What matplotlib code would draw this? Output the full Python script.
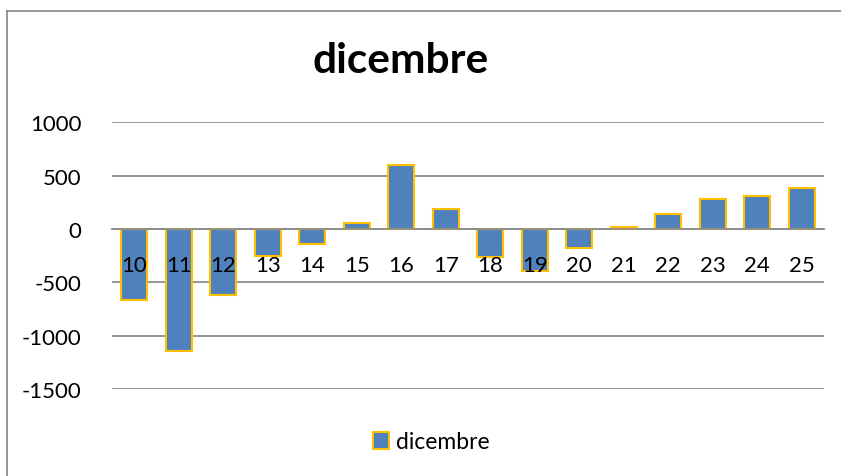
import matplotlib.pyplot as plt
from matplotlib.lines import Line2D

plt.rcParams['font.family'] = ['Lato', 'DejaVu Sans']

giorni = ['10', '11', '12', '13', '14', '15', '16', '17',
          '18', '19', '20', '21', '22', '23', '24', '25']
valori = [-663, -1141, -616, -250, -144, 56, 600, 188,
          -266, -397, -181, 22, 138, 278, 309, 388]
serie = 'dicembre'
y_ticks = [-1500, -1000, -500, 0, 500, 1000]

fig = plt.figure(figsize=(8.41, 4.77), dpi=100)
ax = fig.add_axes([0.1332, 0.1824, 0.8466, 0.5587])

x = list(range(len(giorni)))
ax.bar(x, valori, width=0.575, color='#4F81BD', edgecolor='#FFC000',
       linewidth=1.5, label=serie, zorder=3)

ax.set_xlim(-0.5, len(giorni) - 0.5)
ax.set_ylim(-1500, 1000)

for s in ['top', 'right', 'left']:
    ax.spines[s].set_visible(False)
ax.spines['bottom'].set_position(('data', 0))
ax.spines['bottom'].set_color('#8C8C8C')
ax.spines['bottom'].set_linewidth(1.3)
ax.spines['bottom'].set_zorder(4)

ax.set_yticks(y_ticks)
ax.set_yticklabels([str(v) for v in y_ticks])
ax.set_xticks(x)
ax.set_xticklabels(giorni)
ax.tick_params(axis='y', length=0, pad=22, labelsize=16)
ax.tick_params(axis='x', length=0, pad=19, labelsize=16)

ax.grid(axis='y', color='#8C8C8C', linewidth=1.3)
# griglia sotto le barre, etichette x sopra
ax.yaxis.set_zorder(0.5)
ax.xaxis.set_zorder(5)

fig.text(401 / 841, 1 - 61 / 477, 'dicembre', fontsize=30.5, fontweight='bold',
         ha='center', va='center')

fig.legend(loc='center', bbox_to_anchor=(431 / 841, 1 - 443 / 477), frameon=False,
           fontsize=16.5, handlelength=0.7, handleheight=0.7, handletextpad=0.3)

# bordo dell'area del grafico
fig.add_artist(Line2D([7 / 841, 7 / 841], [0, 1 - 12 / 477], transform=fig.transFigure,
                      color='#8C8C8C', linewidth=1.3))
fig.add_artist(Line2D([7 / 841, 1], [1 - 12 / 477, 1 - 12 / 477], transform=fig.transFigure,
                      color='#8C8C8C', linewidth=1.3))

fig.savefig('out.png', dpi=100)
